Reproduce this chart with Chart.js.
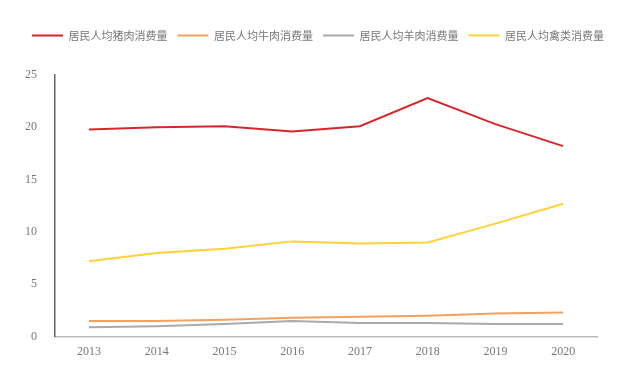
<!DOCTYPE html>
<html>
<head>
<meta charset="utf-8">
<script src="https://cdn.jsdelivr.net/npm/chart.js@4.4.0/dist/chart.umd.min.js"></script>
<style>
  html, body { margin: 0; padding: 0; background: #fff; }
  #wrap { width: 627px; height: 370px; }
</style>
</head>
<body>
<div id="wrap"><canvas id="myChart"></canvas></div>
<script>
const years = ['2013', '2014', '2015', '2016', '2017', '2018', '2019', '2020'];
const pork = [19.8, 20.0, 20.1, 19.6, 20.1, 22.8, 20.3, 18.2];
const beef = [1.5, 1.5, 1.6, 1.8, 1.9, 2.0, 2.2, 2.3];
const mutton = [0.9, 1.0, 1.2, 1.5, 1.3, 1.3, 1.2, 1.2];
const poultry = [7.2, 8.0, 8.4, 9.1, 8.9, 9.0, 10.8, 12.7];

const seriesNames = ['居民人均猪肉消费量', '居民人均牛肉消费量', '居民人均羊肉消费量', '居民人均禽类消费量'];
const seriesColors = ['#d7262b', '#f4a05e', '#aaaaaa', '#fdd138'];

const numFont = { family: "'Liberation Serif', 'DejaVu Serif', serif", size: 12 };

// push the plot area down below the legend
const legendGap = {
  id: 'legendGap',
  beforeInit(chart) {
    const fit = chart.legend.fit;
    chart.legend.fit = function () {
      fit.bind(chart.legend)();
      this.height += 24;
    };
  }
};

const makeSet = (i, values) => ({
  label: seriesNames[i],
  data: values,
  borderColor: seriesColors[i],
  backgroundColor: seriesColors[i],
  borderWidth: 2,
  pointRadius: 0,
  tension: 0,
});

new Chart(document.getElementById('myChart'), {
  type: 'line',
  data: {
    labels: years,
    datasets: [
      makeSet(0, pork),
      makeSet(1, beef),
      makeSet(2, mutton),
      makeSet(3, poultry),
    ],
  },
  options: {
    responsive: true,
    maintainAspectRatio: false,
    animation: false,
    layout: { padding: { left: 9, right: 0, top: 20, bottom: 11 } },
    plugins: {
      legend: {
        position: 'top',
        align: 'center',
        labels: {
          boxWidth: 31,
          boxHeight: 0,
          padding: 10,
          color: '#777',
          font: { family: "'Noto Sans CJK SC', sans-serif", size: 11 },
        },
      },
      tooltip: { enabled: false },
    },
    scales: {
      x: {
        offset: true,
        grid: { display: false },
        border: { display: true, color: '#bbbbbb', width: 1.5 },
        ticks: { color: '#777', font: numFont, padding: 0 },
      },
      y: {
        min: 0,
        max: 25,
        grid: { display: false },
        border: { display: true, color: '#666', width: 1.5 },
        ticks: { stepSize: 5, color: '#777', font: numFont, padding: 10 },
        afterFit(scale) { scale.width = 46; },
      },
      // empty right-hand scale, only keeps the plot clear of the right edge
      yRight: {
        position: 'right',
        grid: { display: false },
        border: { display: false },
        ticks: { display: false },
        afterFit(scale) { scale.width = 30; },
      },
    },
  },
  plugins: [legendGap],
});
</script>
</body>
</html>
